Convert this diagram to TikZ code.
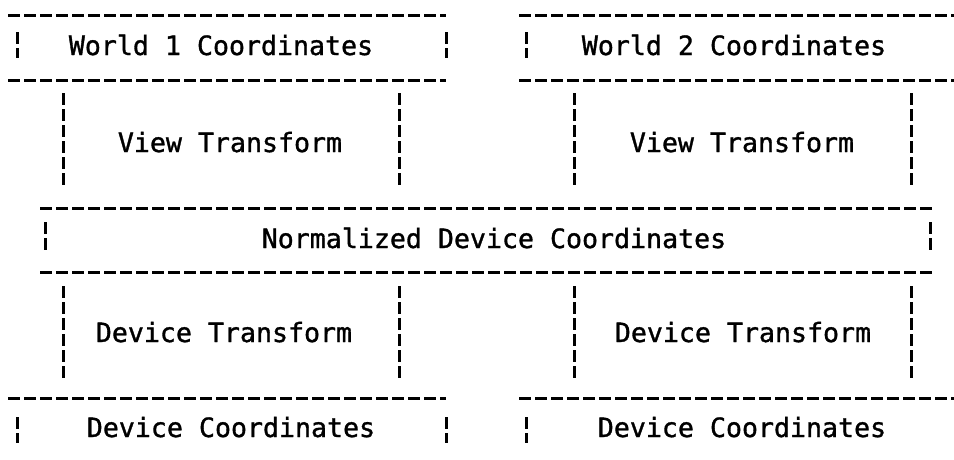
\documentclass[tikz,border=0pt]{standalone}
\usepackage{fontspec}
\setmonofont[FakeBold=1.2]{DejaVu Sans Mono}
\usepackage{tikz}

\tikzset{
  rule/.style={line width=3pt, dash pattern=on 12pt off 4pt},
  bar/.style={line width=3pt, dash pattern=on 12pt off 4pt},
  txt/.style={font=\ttfamily\fontsize{26.6}{32}\selectfont, anchor=base, inner sep=0pt}
}

\begin{document}
\begin{tikzpicture}[x=1pt, y=-1pt]
        \useasboundingbox (0,0) rectangle (954,459);

        % horizontal rules
        \foreach \y in {15,80,398}
        {
            \draw[rule] (8,\y) -- (446,\y);
            \draw[rule] (519,\y) -- (954,\y);
        }
        \draw[rule] (40,208) -- (934,208);
        \draw[rule] (40,272) -- (934,272);

        % vertical bars
        \foreach \x in {17,446,526}
        {
            \draw[bar] (\x,32) -- (\x,58);
            \draw[bar] (\x,417) -- (\x,443);
        }
        \foreach \x in {63,399,574,911}
        {
            \draw[bar] (\x,93) -- (\x,187);
            \draw[bar] (\x,286) -- (\x,378);
        }
        \draw[bar] (45,222) -- (45,250);
        \draw[bar] (930,222) -- (930,250);

        % texts
        \node[txt] (world1) at (221,55) {World 1 Coordinates};
        \node[txt] (world2) at (734,55) {World 2 Coordinates};
        \node[txt] (view1) at (230,152) {View Transform};
        \node[txt] (view2) at (742,152) {View Transform};
        \node[txt] (ndc) at (494,248) {Normalized Device Coordinates};
        \node[txt] (dev1) at (224,342) {Device Transform};
        \node[txt] (dev2) at (743,342) {Device Transform};
        \node[txt] (devc1) at (231,437) {Device Coordinates};
        \node[txt] (devc2) at (742,437) {Device Coordinates};
    \end{tikzpicture}
\end{document}
